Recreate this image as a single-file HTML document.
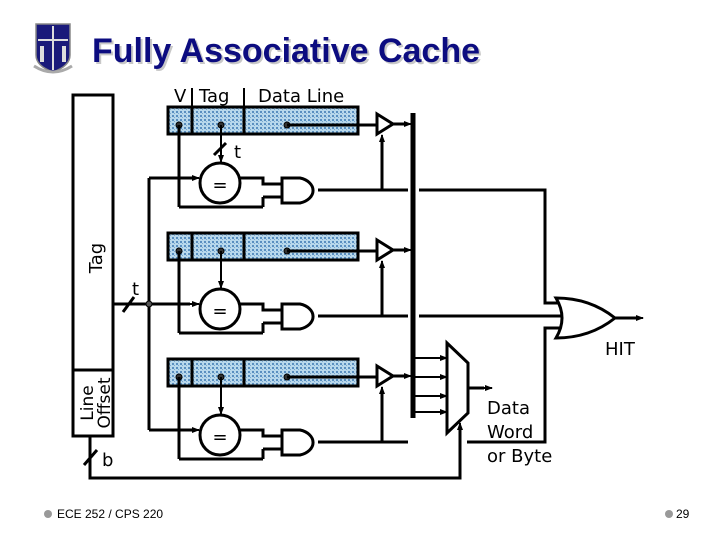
<!DOCTYPE html>
<html><head><meta charset="utf-8"><style>
body{margin:0;background:#fff;}
svg{display:block;}
text{font-family:"DejaVu Sans","Liberation Sans",sans-serif;}
text.t{font-family:"Liberation Sans",sans-serif;}
</style></head><body>
<svg width="720" height="540" viewBox="0 0 720 540" xmlns="http://www.w3.org/2000/svg">
<defs>
<pattern id="h" width="4" height="4" patternUnits="userSpaceOnUse">
<rect width="4" height="4" fill="#b8d8ec"/>
<rect x="0" y="0" width="2" height="2" fill="#5a8fc0"/>
<rect x="2" y="2" width="1" height="1" fill="#7aa8d0"/>
</pattern>
<marker id="a" markerWidth="8" markerHeight="8" refX="7" refY="4" orient="auto" markerUnits="userSpaceOnUse">
<path d="M0,1 L8,4 L0,7 Z" fill="#000"/></marker>
<g id="row">
<rect x="168" y="0" width="190" height="27" fill="url(#h)" stroke="#000" stroke-width="3"/>
<line x1="192" y1="0" x2="192" y2="27" stroke="#000" stroke-width="3"/>
<line x1="244" y1="0" x2="244" y2="27" stroke="#000" stroke-width="3"/>
<g fill="#333" stroke="#000" stroke-width="1"><circle cx="179" cy="18" r="3"/><circle cx="221" cy="18" r="3"/><circle cx="287" cy="18" r="3"/></g>
<g fill="none" stroke="#000" stroke-width="3">
<line x1="287" y1="18" x2="377" y2="18"/>
<path d="M377,7 L393,17 L377,27 Z" fill="#fff"/>
<line x1="393" y1="17" x2="405" y2="17"/>
<line x1="179" y1="18" x2="179" y2="100"/>
<line x1="179" y1="100" x2="263" y2="100"/>
<line x1="263" y1="100" x2="263" y2="90"/><line x1="263" y1="90" x2="282" y2="90"/>
<circle cx="220" cy="76" r="20"/>
<path d="M240,71 L263,71 L263,77 L282,77"/>
<path d="M282,71 L300,71 A18,13 0 0 1 300,96 L282,96 Z" fill="#fff"/>
<line x1="318" y1="83" x2="408" y2="83"/>
<line x1="382" y1="83" x2="382" y2="32"/>
</g>
<g stroke="#000" stroke-width="2" fill="none">
<line x1="221" y1="18" x2="221" y2="55" marker-end="url(#a)"/>
<line x1="400" y1="17" x2="411" y2="17" marker-end="url(#a)"/>
<line x1="382" y1="36" x2="382" y2="28" marker-end="url(#a)"/>
</g>
<text x="220" y="84" font-size="18" text-anchor="middle">=</text>
</g>
</defs>
<!-- title -->
<g>
<path d="M36,24 L70,24 L70,55 Q70,66 53,72 Q36,66 36,55 Z" fill="#1a1a7a" stroke="#888" stroke-width="1.5"/>
<line x1="53" y1="26" x2="53" y2="70" stroke="#ddd" stroke-width="2"/>
<line x1="38" y1="40" x2="68" y2="40" stroke="#ddd" stroke-width="2"/>
<rect x="40" y="46" width="4" height="16" fill="#ddd"/><rect x="62" y="46" width="4" height="16" fill="#ddd"/>
<path d="M34,66 Q53,78 72,66" stroke="#aaa" stroke-width="3" fill="none"/>
</g>
<text class="t" x="94" y="64" font-weight="bold" font-size="34" fill="#c8c8c8">Fully Associative Cache</text>
<text class="t" x="92" y="62" font-weight="bold" font-size="34" fill="#0c0c80">Fully Associative Cache</text>
<!-- headers -->
<g font-size="18"><text x="174" y="102">V</text><text x="199" y="102">Tag</text><text x="258" y="102">Data Line</text></g>
<line x1="192" y1="88" x2="192" y2="107" stroke="#000" stroke-width="2"/>
<line x1="244" y1="88" x2="244" y2="107" stroke="#000" stroke-width="2"/>
<!-- address box -->
<g fill="none" stroke="#000" stroke-width="3">
<rect x="73" y="95" width="40" height="341" fill="#fff"/>
<line x1="73" y1="370" x2="113" y2="370"/>
</g>
<text transform="translate(102,258) rotate(-90)" font-size="18" text-anchor="middle">Tag</text>
<text transform="translate(93,403) rotate(-90)" font-size="17" text-anchor="middle">Line</text>
<text transform="translate(110,403) rotate(-90)" font-size="17" text-anchor="middle">Offset</text>
<!-- rows -->
<use href="#row" y="107"/>
<use href="#row" y="233"/>
<use href="#row" y="359"/>
<line x1="214" y1="155" x2="226" y2="143" stroke="#000" stroke-width="3"/>
<text x="234" y="158" font-size="18">t</text>
<g fill="none" stroke="#000" stroke-width="3">
<line x1="113" y1="304" x2="190" y2="304"/>
<line x1="149" y1="178" x2="149" y2="430"/>
<line x1="149" y1="178" x2="192" y2="178"/>
<line x1="149" y1="430" x2="192" y2="430"/>
<line x1="123" y1="312" x2="134" y2="297"/>
</g>
<g stroke="#000" stroke-width="2">
<line x1="185" y1="178" x2="199" y2="178" marker-end="url(#a)"/>
<line x1="185" y1="304" x2="199" y2="304" marker-end="url(#a)"/>
<line x1="185" y1="430" x2="199" y2="430" marker-end="url(#a)"/>
</g>
<circle cx="149" cy="304" r="3" fill="#555" stroke="#000"/>
<text x="132" y="295" font-size="18">t</text>
<line x1="413" y1="113" x2="413" y2="418" stroke="#000" stroke-width="5"/>
<g fill="none" stroke="#000" stroke-width="3">
<path d="M419,190 L545,190 L545,303 L560,303"/>
<line x1="419" y1="316" x2="562" y2="316"/>
<path d="M467,442 L545,442 L545,328 L560,328"/>
<path d="M556,298 Q590,298 615,318 Q590,338 556,338 Q568,318 556,298 Z" fill="#fff"/>
<line x1="615" y1="318" x2="636" y2="318"/>
<path d="M447,343 L468,363 L468,413 L447,433 Z" fill="#fff"/>
<line x1="468" y1="388" x2="484" y2="388"/>
<path d="M90,436 L90,478 L460,478 L460,430"/>
<line x1="84" y1="465" x2="97" y2="450"/>
</g>
<g stroke="#000" stroke-width="2">
<line x1="630" y1="318" x2="643" y2="318" marker-end="url(#a)"/>
<line x1="480" y1="388" x2="492" y2="388" marker-end="url(#a)"/>
<line x1="460" y1="430" x2="460" y2="423" marker-end="url(#a)"/>
<line x1="413" y1="358" x2="447" y2="358" marker-end="url(#a)"/>
<line x1="413" y1="377" x2="447" y2="377" marker-end="url(#a)"/>
<line x1="413" y1="396" x2="447" y2="396" marker-end="url(#a)"/>
<line x1="413" y1="412" x2="447" y2="412" marker-end="url(#a)"/>
</g>
<text x="605" y="355" font-size="18">HIT</text>
<text x="102" y="466" font-size="18">b</text>
<g font-size="18"><text x="487" y="414">Data</text><text x="487" y="438">Word</text><text x="487" y="462">or Byte</text></g>
<circle cx="48" cy="514" r="4" fill="#999"/>
<text class="t" x="57" y="518" font-size="12">ECE 252 / CPS 220</text>
<circle cx="669" cy="514" r="4" fill="#999"/>
<text class="t" x="676" y="518" font-size="12">29</text>
</svg>
</body></html>
